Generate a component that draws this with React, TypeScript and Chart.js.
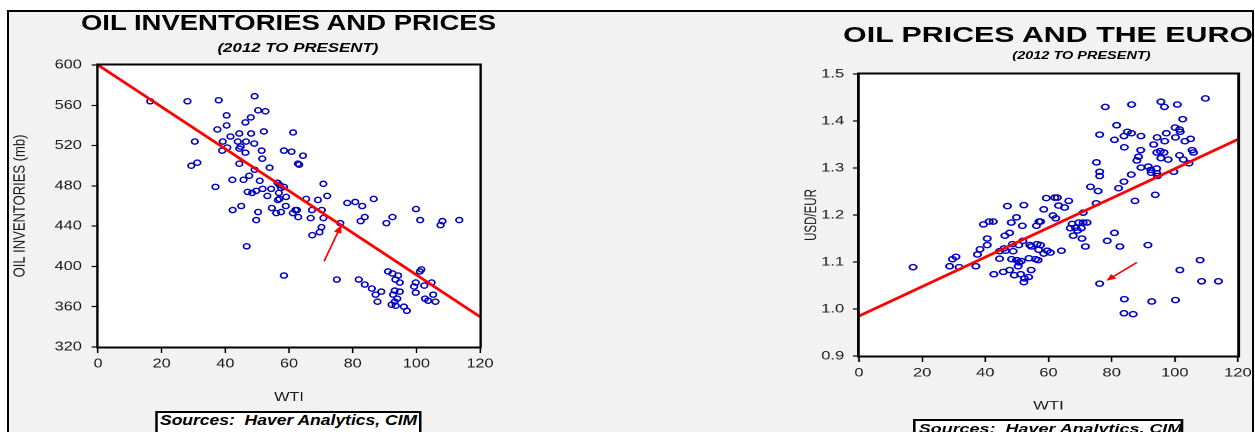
import React, { useEffect, useRef } from "react";
import { Chart, registerables } from "chart.js";

Chart.register(...registerables);

const FONT = "'Liberation Sans', Arial, Helvetica, sans-serif";

// ---------- Left chart data: WTI vs oil inventories ----------
const leftWTI = [
  16.4, 28.1, 37.9, 49.2, 50.3, 52.6, 40.4, 48, 46.3, 40.4, 37.5, 52.1, 61.3, 41.6, 44.4, 48.1,
  30.4, 39.2, 43.9, 46.5, 49.1, 44.8, 44.4, 40.6, 39, 51.4, 58.4, 60.8, 46.3, 51.6, 29.3, 31.2,
  44.4, 53.9, 62.8, 49.2, 47.5, 42.2, 45.7, 50.8, 56.4, 36.9, 54.4, 57.5, 58.4, 51.7, 49.7, 47,
  48.4, 56.8, 53.2, 59.1, 56.5, 57, 45, 42.3, 54.6, 59, 56, 57.5, 50.3, 61.2, 62.5, 62.9, 49.7,
  46.7, 58.4, 64.4, 63.2, 70.8, 57, 65.4, 69.1, 72, 78.3, 80.8, 83, 86.6, 62, 66.8, 67.2, 70.3,
  70.8, 70.2, 69.6, 67.3, 76.1, 82.5, 83.8, 90.6, 92.5, 99.9, 101.2, 107.6, 108.2, 113.5, 75,
  81.9, 83.8, 86, 87.2, 89, 87.8, 91.1, 92.5, 94.3, 93.4, 94.8, 93.2, 94.8, 92.7, 94, 93.2, 92.2,
  93.5, 96.1, 97, 101.1, 101.6, 99.8, 102.5, 104.8, 99.3, 99.8, 105.3, 102.7, 103.7, 106,
];
const leftInventories = [
  564, 564, 565, 569, 555, 554, 550, 548, 543, 540, 536, 534, 533, 529, 532, 532,
  524, 524, 524, 524, 522, 519, 517, 518, 515, 515, 515, 514, 513, 507, 500, 503,
  502, 498, 502, 496, 490, 486, 486, 485, 483, 479, 477, 478, 479, 477, 475, 474,
  473, 473, 470, 469, 466, 467, 460, 456, 458, 460, 453, 454, 454, 453, 456, 449, 446,
  420, 391, 510, 501, 482, 481, 467, 466, 470, 463, 464, 460, 467, 456, 448, 456, 456,
  448, 439, 434, 431, 443, 445, 449, 443, 449, 457, 446, 441, 445, 446, 387,
  387, 382, 378, 372, 375, 365, 395, 393, 391, 387, 384, 376, 375, 372, 368, 365, 362,
  361, 360, 356, 395, 397, 384, 381, 384, 380, 374, 372, 368, 366, 365,
];
const leftFitWTI = [0, 120];
const leftFitInventories = [600, 350];
const leftArrowWTI = [71, 76.4];
const leftArrowInventories = [405, 441];
const leftXTicks = [0, 20, 40, 60, 80, 100, 120];
const leftYTicks = [320, 360, 400, 440, 480, 520, 560, 600];

// ---------- Right chart data: WTI vs USD/EUR ----------
const rightWTI = [
  17.1, 28.7, 29.6, 30.7, 31.7, 37, 37.5, 38.3, 40.6, 40.6, 39.4, 41.2, 42.5, 47, 52.2, 49.9,
  48.2, 51.7, 56.2, 57, 46.2, 47.7, 42.7, 45.7, 47.7, 49.2, 51.2, 52.4, 52.2, 53.7, 54.5, 44.5,
  44.5, 46.4, 48.3, 48.8, 49.9, 50.7, 51.4, 50.4, 48.6, 50.6, 51.9, 54.1, 54.6, 56.4, 53.8, 55.9,
  56.7, 45.9, 78, 86.3, 95.6, 96.7, 100.8, 109.7, 102.5, 81.6, 85, 86.3, 76.2, 80.9, 83.9, 89.3,
  97.3, 100.1, 101.5, 101.7, 100.2, 94.4, 96.8, 93.3, 103.2, 105, 84, 89.2, 94.3, 95.4, 96.6,
  88.5, 88, 95.6, 97.9, 101.5, 102.7, 105.5, 105.9, 104.5, 75.2, 76.2, 76.2, 89.3, 91.6, 92.4,
  92.5, 94.3, 94.3, 94.5, 99.7, 86.2, 83.9, 82.2, 73.3, 75.7, 75.1, 93.8, 87.4, 59.3, 62, 62.8,
  66.4, 63.2, 65.1, 58.5, 71, 61.4, 62.3, 57.5, 67.5, 69.6, 71, 72.2, 66.9, 68.5, 70.4, 69.2,
  67.8, 70.6, 80.9, 71.7, 78.6, 82.6, 91.5, 64.1, 59.6, 60.6, 58.5, 56.9, 57.5, 76.2, 108,
  101.6, 108.5, 113.8, 84, 92.7, 100.2, 83.9, 86.8,
];
const rightUsdEur = [
  1.089, 1.091, 1.106, 1.111, 1.089, 1.091, 1.116, 1.127, 1.136, 1.15, 1.18, 1.186, 1.186, 1.219, 1.221, 1.195,
  1.184, 1.177, 1.177, 1.186, 1.156, 1.162, 1.074, 1.079, 1.083, 1.072, 1.074, 1.065, 1.057, 1.068, 1.083, 1.107,
  1.123, 1.124, 1.106, 1.123, 1.104, 1.099, 1.102, 1.091, 1.138, 1.136, 1.145, 1.136, 1.133, 1.138, 1.108, 1.106,
  1.104, 1.129, 1.43, 1.435, 1.441, 1.43, 1.435, 1.448, 1.404, 1.391, 1.377, 1.374, 1.371, 1.36, 1.368, 1.368,
  1.374, 1.386, 1.382, 1.377, 1.365, 1.365, 1.357, 1.35, 1.357, 1.362, 1.344, 1.338, 1.333, 1.336, 1.333,
  1.324, 1.316, 1.321, 1.318, 1.327, 1.318, 1.338, 1.333, 1.31, 1.312, 1.292, 1.283, 1.301, 1.303, 1.296,
  1.29, 1.299, 1.289, 1.283, 1.292, 1.286, 1.271, 1.257, 1.26, 1.251, 1.225, 1.243, 1.23, 1.236, 1.237, 1.237,
  1.23, 1.22, 1.216, 1.212, 1.205, 1.199, 1.193, 1.186, 1.181, 1.184, 1.184, 1.184, 1.172, 1.173, 1.172, 1.167,
  1.156, 1.15, 1.162, 1.133, 1.145, 1.133, 1.136, 1.124, 1.124, 1.12, 1.118, 1.126, 1.136, 1.054, 1.104,
  1.083, 1.059, 1.059, 1.021, 1.016, 1.019, 0.991, 0.989,
];
const rightFitWTI = [0, 120];
const rightFitUsdEur = [0.985, 1.361];
const rightArrowWTI = [88, 78.3];
const rightArrowUsdEur = [1.099, 1.06];
const rightXTicks = [0, 20, 40, 60, 80, 100, 120];
const rightYTicks = [0.9, 1.0, 1.1, 1.2, 1.3, 1.4, 1.5];

type Spec = {
  xs: number[]; ys: number[]; fitX: number[]; fitY: number[];
  arrowX: number[]; arrowY: number[]; xTicks: number[]; yTicks: number[]; yDecimals: number;
  area: { left: number; right: number; top: number; bottom: number };
  width: number; height: number;
  tickFont: number; xTitle: string; xTitleFont: number; yTitle: string; yTitleFont: number;
  yTickLen: number; yTickPad: number; xTickLen: number; xTickPad: number;
  xAxisH: number; xTitlePadB: number; yTitlePadT: number;
  headLen: number; headW: number;
};

function buildConfig(s: Spec): any {
  const framePlugin = {
    id: "frameArrow",
    beforeDraw(chart: any) {
      const { ctx, chartArea: a } = chart;
      ctx.save();
      ctx.fillStyle = "#ffffff";
      ctx.fillRect(a.left, a.top, a.right - a.left, a.bottom - a.top);
      ctx.restore();
    },
    afterDatasetsDraw(chart: any) {
      const { ctx, chartArea: a, scales } = chart;
      const x0 = scales.x.getPixelForValue(s.arrowX[0]);
      const y0 = scales.y.getPixelForValue(s.arrowY[0]);
      const x1 = scales.x.getPixelForValue(s.arrowX[1]);
      const y1 = scales.y.getPixelForValue(s.arrowY[1]);
      const ang = Math.atan2(y1 - y0, x1 - x0);
      ctx.save();
      ctx.strokeStyle = "#ff0000";
      ctx.fillStyle = "#ff0000";
      ctx.lineWidth = 1.4;
      ctx.beginPath();
      ctx.moveTo(x0, y0);
      ctx.lineTo(x1 - Math.cos(ang) * s.headLen * 0.7, y1 - Math.sin(ang) * s.headLen * 0.7);
      ctx.stroke();
      ctx.beginPath();
      ctx.moveTo(x1, y1);
      ctx.lineTo(
        x1 - Math.cos(ang) * s.headLen + Math.sin(ang) * s.headW,
        y1 - Math.sin(ang) * s.headLen - Math.cos(ang) * s.headW
      );
      ctx.lineTo(
        x1 - Math.cos(ang) * s.headLen - Math.sin(ang) * s.headW,
        y1 - Math.sin(ang) * s.headLen + Math.cos(ang) * s.headW
      );
      ctx.closePath();
      ctx.fill();
      ctx.strokeStyle = "#000000";
      ctx.lineWidth = 2;
      ctx.strokeRect(a.left - 0.5, a.top - 0.5, a.right - a.left + 1, a.bottom - a.top + 1);
      ctx.restore();
    },
  };

  const points = s.xs.map((x, i) => ({ x, y: s.ys[i] }));
  const fit = s.fitX.map((x, i) => ({ x, y: s.fitY[i] }));

  return {
    type: "scatter",
    data: {
      datasets: [
        {
          data: fit,
          showLine: true,
          borderColor: "#ff0000",
          borderWidth: 2.6,
          pointRadius: 0,
          fill: false,
        },
        {
          data: points,
          showLine: false,
          pointRadius: 2.6,
          pointBorderWidth: 1.4,
          pointBorderColor: "#0000c0",
          pointBackgroundColor: "rgba(0,0,0,0)",
        },
      ],
    },
    options: {
      responsive: false,
      animation: false,
      devicePixelRatio: 2,
      events: [],
      layout: {
        padding: {
          left: 0,
          top: s.area.top,
          right: s.width - s.area.right,
          bottom: s.height - s.area.bottom - s.xAxisH,
        },
      },
      plugins: { legend: { display: false }, tooltip: { enabled: false }, title: { display: false } },
      scales: {
        x: {
          type: "linear",
          min: s.xTicks[0],
          max: s.xTicks[s.xTicks.length - 1],
          afterBuildTicks: (axis: any) => {
            axis.ticks = s.xTicks.map((v) => ({ value: v }));
          },
          afterFit: (axis: any) => {
            axis.height = s.xAxisH;
          },
          ticks: {
            color: "#1a1a1a",
            font: { family: FONT, size: s.tickFont },
            padding: s.xTickPad,
            maxRotation: 0,
            autoSkip: false,
            callback: (v: any) => String(v),
          },
          grid: {
            drawOnChartArea: false,
            drawTicks: true,
            tickLength: s.xTickLen,
            color: "#000000",
            tickWidth: 1.2,
          },
          border: { display: false },
          title: {
            display: true,
            text: s.xTitle,
            color: "#1a1a1a",
            font: { family: FONT, size: s.xTitleFont },
            padding: { top: 0, bottom: s.xTitlePadB },
          },
        },
        y: {
          type: "linear",
          min: s.yTicks[0],
          max: s.yTicks[s.yTicks.length - 1],
          afterBuildTicks: (axis: any) => {
            axis.ticks = s.yTicks.map((v) => ({ value: v }));
          },
          afterFit: (axis: any) => {
            axis.width = s.area.left;
          },
          ticks: {
            color: "#1a1a1a",
            font: { family: FONT, size: s.tickFont },
            padding: s.yTickPad,
            autoSkip: false,
            callback: (v: any) => Number(v).toFixed(s.yDecimals),
          },
          grid: {
            drawOnChartArea: false,
            drawTicks: true,
            tickLength: s.yTickLen,
            color: "#000000",
            tickWidth: 1.2,
          },
          border: { display: false },
          title: {
            display: true,
            text: s.yTitle,
            color: "#1a1a1a",
            font: { family: FONT, size: s.yTitleFont },
            padding: { top: s.yTitlePadT, bottom: 0 },
          },
        },
      },
    },
    plugins: [framePlugin],
  };
}

function ChartCanvas({ spec }: { spec: Spec }) {
  const ref = useRef<HTMLCanvasElement | null>(null);
  useEffect(() => {
    if (!ref.current) return;
    const chart = new Chart(ref.current, buildConfig(spec));
    return () => chart.destroy();
  }, []);
  return (
    <canvas
      ref={ref}
      width={spec.width}
      height={spec.height}
      style={{ position: "absolute", left: 0, top: 0, width: spec.width, height: spec.height }}
    />
  );
}

const leftSpec: Spec = {
  xs: leftWTI, ys: leftInventories, fitX: leftFitWTI, fitY: leftFitInventories,
  arrowX: leftArrowWTI, arrowY: leftArrowInventories, xTicks: leftXTicks, yTicks: leftYTicks, yDecimals: 0,
  area: { left: 71.2, right: 376.8, top: 53, bottom: 335 },
  width: 440, height: 420,
  tickFont: 13, xTitle: "WTI", xTitleFont: 13, yTitle: "OIL INVENTORIES (mb)", yTitleFont: 13,
  yTickLen: 5, yTickPad: 8, xTickLen: 6, xTickPad: 3, xAxisH: 58, xTitlePadB: 0, yTitlePadT: 1,
  headLen: 8, headW: 3.2,
};

const rightSpec: Spec = {
  xs: rightWTI, ys: rightUsdEur, fitX: rightFitWTI, fitY: rightFitUsdEur,
  arrowX: rightArrowWTI, arrowY: rightArrowUsdEur, xTicks: rightXTicks, yTicks: rightYTicks, yDecimals: 1,
  area: { left: 50, right: 324.6, top: 62, bottom: 344 },
  width: 345, height: 420,
  tickFont: 12, xTitle: "WTI", xTitleFont: 12, yTitle: "USD/EUR", yTitleFont: 11.5,
  yTickLen: 4.5, yTickPad: 6.2, xTickLen: 6, xTickPad: 4, xAxisH: 58, xTitlePadB: 0.6, yTitlePadT: 9,
  headLen: 7, headW: 3,
};

const centered = (cx: number, cy: number, size: number, italic: boolean): React.CSSProperties => ({
  position: "absolute",
  left: cx,
  top: cy,
  transform: "translate(-50%, -50%)",
  whiteSpace: "nowrap",
  fontFamily: FONT,
  fontWeight: "bold",
  fontStyle: italic ? "italic" : "normal",
  fontSize: size,
  lineHeight: 1,
  color: "#000",
});

const sourceBox = (left: number, top: number, width: number, size: number): React.CSSProperties => ({
  position: "absolute",
  left,
  top,
  width,
  height: 24,
  boxSizing: "border-box",
  border: "2px solid #000",
  background: "#fff",
  fontFamily: FONT,
  fontWeight: "bold",
  fontStyle: "italic",
  fontSize: size,
  lineHeight: "15px",
  paddingLeft: 2,
  whiteSpace: "pre",
  color: "#000",
});

export default function App() {
  return (
    <div
      style={{
        position: "fixed",
        left: 7,
        top: 10,
        width: 1247,
        height: 440,
        boxSizing: "border-box",
        borderTop: "2px solid #000",
        borderLeft: "2px solid #000",
        borderRight: "2px solid #000",
        background: "#f2f2f2",
        overflow: "hidden",
      }}
    >
      <div
        style={{
          position: "absolute",
          left: 0,
          top: 0,
          width: leftSpec.width,
          height: leftSpec.height,
          transform: "scaleX(1.25)",
          transformOrigin: "0 0",
        }}
      >
        <ChartCanvas spec={leftSpec} />
        <div style={centered(223.6, 11.3, 22, false)}>OIL INVENTORIES AND PRICES</div>
        <div style={centered(231.2, 36.3, 13.5, true)}>(2012 TO PRESENT)</div>
        <div style={sourceBox(116.8, 399, 212.8, 14)}>{"Sources:  Haver Analytics, CIM"}</div>
      </div>
      <div
        style={{
          position: "absolute",
          left: 781,
          top: 0,
          width: rightSpec.width,
          height: rightSpec.height,
          transform: "scaleX(1.38)",
          transformOrigin: "0 0",
        }}
      >
        <ChartCanvas spec={rightSpec} />
        <div style={centered(187, 22.7, 22, false)}>OIL PRICES AND THE EURO</div>
        <div style={centered(211.2, 42.7, 10.5, true)}>(2012 TO PRESENT)</div>
        <div style={sourceBox(89.3, 407, 196, 13)}>{"Sources:  Haver Analytics, CIM"}</div>
      </div>
    </div>
  );
}
